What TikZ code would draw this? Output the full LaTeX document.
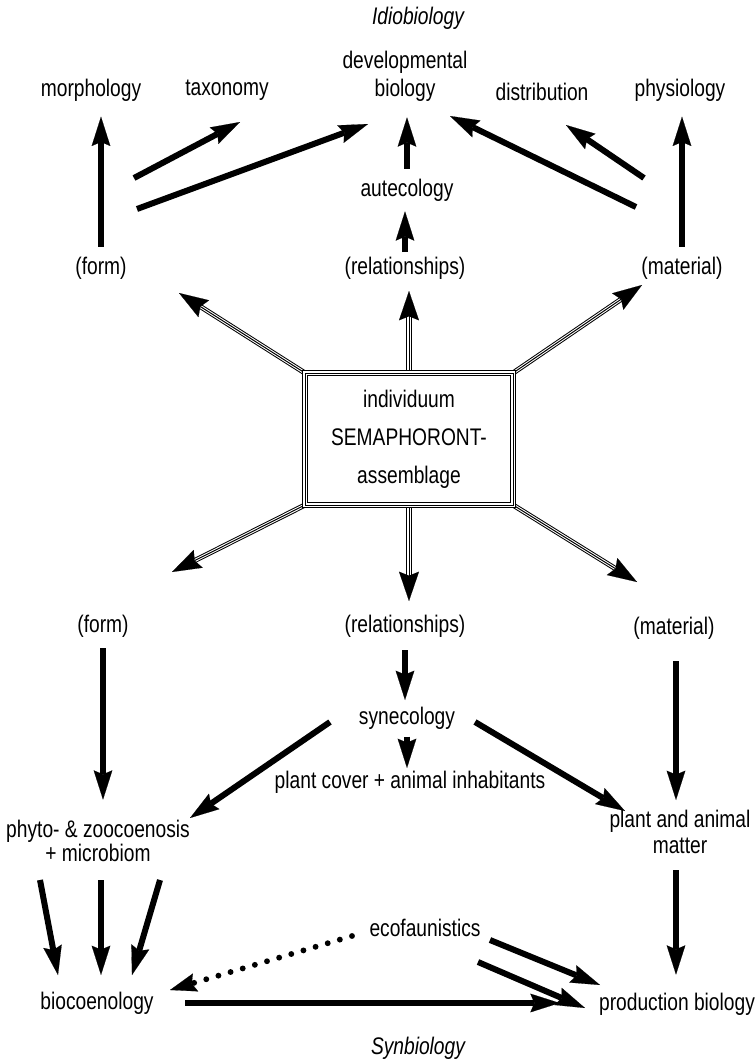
\documentclass[tikz,border=0pt]{standalone}
\usepackage{fontspec}
\setmainfont{Liberation Sans}[FakeStretch=0.8]
\usetikzlibrary{arrows.meta, positioning, calc, backgrounds}

\tikzset{
  lbl/.style={font=\fontsize{18}{21}\selectfont, align=center, inner sep=2pt},
  ttl/.style={font=\fontsize{18}{21}\selectfont\itshape, inner sep=2pt},
  flow/.style={line width=4.5pt,
    -{Stealth[length=22pt, width=14pt, inset=3pt, line width=0.1pt]}},
  dotflow/.style={line width=4.4pt, line cap=round, dash pattern=on 0pt off 9.5pt,
    -{Stealth[length=20pt, width=14pt, inset=3pt, line width=0.1pt]}},
  tripleline/.style={line width=0.75pt, double, double distance=2.3pt},
  tripletip/.style={line width=0.75pt,
    -{Stealth[length=22pt, width=15pt, inset=3pt, line width=0.1pt]}},
}

\begin{document}
\begin{tikzpicture}[x=0.75pt, y=-0.75pt]
  \useasboundingbox (0,0) rectangle (755,1064);

  % idiobiology side
  \node[ttl] (idio) at (418,18) {Idiobiology};
  \node[lbl] (morph) at (91,90) {morphology};
  \node[lbl] (taxo) at (227,90) {taxonomy};
  \node[lbl] (devbio) at (405,76) {developmental\\biology};
  \node[lbl] (distr) at (542,92) {distribution};
  \node[lbl] (physio) at (680,90) {physiology};
  \node[lbl] (autec) at (407,190) {autecology};
  \node[lbl] (formA) at (101,268) {(form)};
  \node[lbl] (relA) at (405,268) {(relationships)};
  \node[lbl] (matA) at (682,268) {(material)};

  % centre
  \node[lbl, draw, tripleline, fill=white, outer sep=0pt,
        minimum width=156pt, minimum height=99pt] (box) at (409,439)
    {individuum\\[7.5pt]SEMAPHORONT-\\[7.5pt]assemblage};
  \draw[line width=0.75pt] (box.south west) rectangle (box.north east);

  % synbiology side
  \node[lbl] (formB) at (103,626) {(form)};
  \node[lbl] (relB) at (405,626) {(relationships)};
  \node[lbl] (matB) at (674,628) {(material)};
  \node[lbl] (synec) at (407,718) {synecology};
  \node[lbl] (cover) at (410,782) {plant cover + animal inhabitants};
  \node[lbl, font=\fontsize{18}{18}\selectfont] (phyto) at (98,841)
    {phyto- \& zoocoenosis\\+ microbiom};
  \node[lbl, font=\fontsize{18}{19}\selectfont] (plant) at (680,832)
    {plant and animal\\matter};
  \node[lbl] (ecofa) at (425,928) {ecofaunistics};
  \node[lbl] (bioc) at (97,1003) {biocoenology};
  \node[lbl] (prod) at (677,1004) {production biology};
  \node[ttl] (synbio) at (418,1048) {Synbiology};

  % ends of the slanted arrows
  \coordinate (tul) at (179,293);
  \coordinate (tu) at (409,291);
  \coordinate (tur) at (642,285);
  \coordinate (tdl) at (172,572);
  \coordinate (td) at (409,601);
  \coordinate (tdr) at (637,582);

  % triple arrows out of the box
  \begin{scope}[on background layer]
    \foreach \from/\to in {box.north west/tul, box.north/tu, box.north east/tur,
                           box.south west/tdl, box.south/td, box.south east/tdr} {
      \draw[tripleline, shorten >=18pt] (\from) -- (\to);
      \draw[tripletip] (\from) -- (\to);
    }
  \end{scope}

  % upper arrows
  \draw[flow, shorten <=16pt, shorten >=20pt] (formA.center) -- (formA.center |- morph.center);
  \draw[flow, shorten <=12pt, shorten >=16pt] (relA.center) -- (relA.center |- autec.center);
  \draw[flow, shorten <=16pt, shorten >=31pt] (autec.center) -- (autec.center |- devbio.center);
  \draw[flow, shorten <=16pt, shorten >=20pt] (matA.center) -- (matA.center |- physio.center);
  \coordinate (fa1) at (134,178);  \coordinate (fa1t) at (240,122);
  \coordinate (fa2) at (137,209);  \coordinate (fa2t) at (368,124);
  \coordinate (ma1) at (644,178);  \coordinate (ma1t) at (566,125);
  \coordinate (ma2) at (636,207);  \coordinate (ma2t) at (450,116);
  \draw[flow] (fa1) -- (fa1t);
  \draw[flow] (fa2) -- (fa2t);
  \draw[flow] (ma1) -- (ma1t);
  \draw[flow] (ma2) -- (ma2t);

  % lower arrows
  \draw[flow, shorten <=16.5pt, shorten >=31pt] (formB.center) -- (formB.center |- phyto.center);
  \draw[flow, shorten <=18pt, shorten >=13.5pt] (relB.center) -- (relB.center |- synec.center);
  \draw[flow, shorten <=14pt, shorten >=10.5pt] (synec.center) -- (synec.center |- cover.center);
  \draw[flow, shorten <=25pt, shorten >=24pt] ([xshift=1.5pt]matB.center)
    -- ([xshift=1.5pt]matB.center |- plant.center);
  \draw[flow, shorten <=28.5pt, shorten >=22pt] ([xshift=-3pt]plant.center)
    -- ([xshift=-3pt]plant.center |- prod.center);
  \coordinate (sy1) at (330,722);  \coordinate (sy1t) at (190,818);
  \coordinate (sy2) at (475,722);  \coordinate (sy2t) at (625,811);
  \draw[flow] (sy1) -- (sy1t);
  \draw[flow] (sy2) -- (sy2t);
  \coordinate (ph1) at (40,880);   \coordinate (ph1t) at (58,975);
  \coordinate (ph2) at (101,880);  \coordinate (ph2t) at (101,975);
  \coordinate (ph3) at (160,880);  \coordinate (ph3t) at (132,975);
  \draw[flow] (ph1) -- (ph1t);
  \draw[flow] (ph2) -- (ph2t);
  \draw[flow] (ph3) -- (ph3t);
  \coordinate (ec1) at (490,940);  \coordinate (ec1t) at (600,985);
  \coordinate (ec2) at (478,962);  \coordinate (ec2t) at (585,1008);
  \draw[flow] (ec1) -- (ec1t);
  \draw[flow] (ec2) -- (ec2t);
  \coordinate (ecd) at (352,936);  \coordinate (ecdt) at (170,990);
  \draw[dotflow] (ecd) -- (ecdt);
  \draw[flow, shorten <=66pt, shorten >=88pt] (bioc.center) -- (bioc.center -| prod.center);
\end{tikzpicture}
\end{document}
